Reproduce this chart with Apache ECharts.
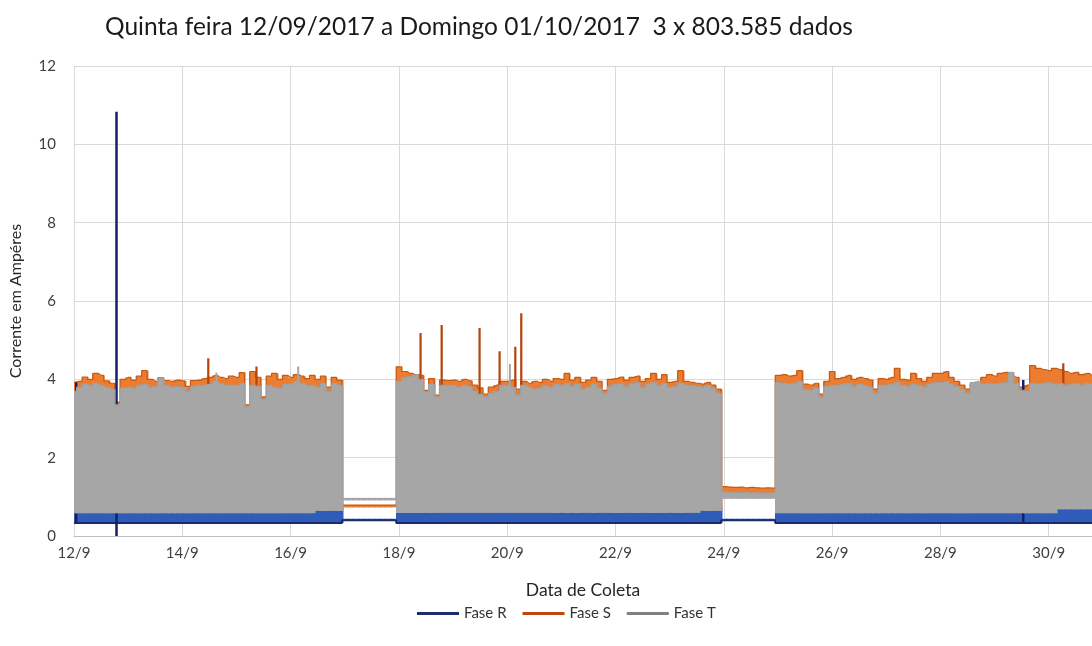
<!DOCTYPE html>
<html><head><meta charset="utf-8">
<script src="https://cdn.jsdelivr.net/npm/echarts@6/dist/echarts.min.js"></script>
<style>html,body{margin:0;padding:0;background:#fff}#c{width:1092px;height:646px}</style>
</head><body><div id="c"></div>
<script>
// ---------------- DADOS ----------------
const titulo = 'Quinta feira 12/09/2017 a Domingo 01/10/2017  3 x 803.585 dados';
const rotulosX = ['12/9','14/9','16/9','18/9','20/9','22/9','24/9','26/9','28/9','30/9'];
const legendas = ['Fase R','Fase S','Fase T'];

// amostragem (dias de setembro): início e passo da grade de leitura
const inicio = 12.0, passo = 0.1;

// envoltória superior da Fase S (A), lida a cada 0,1 dia
const faseS_max = [
 3.93,3.95,4.06,4.00,4.15,4.10,3.96,3.90,3.42,4.00,
 4.05,3.98,4.08,4.22,4.00,3.95,4.04,3.97,3.95,3.98,
 3.96,3.82,3.97,3.98,4.02,4.05,4.10,4.05,4.02,4.08,
 4.05,4.17,3.35,4.20,4.05,3.55,4.08,4.15,4.00,4.10,
 4.05,4.12,4.08,4.02,4.10,4.00,4.08,3.80,4.05,3.98,
 0.79,0.79,0.79,0.79,0.79,0.79,0.79,0.79,0.79,0.79,
 4.32,4.20,4.15,4.12,4.10,3.72,4.02,3.60,3.98,3.97,
 3.98,3.95,4.00,3.96,3.85,3.78,3.62,3.80,3.85,3.95,
 3.95,3.98,3.75,3.95,3.90,3.95,3.92,4.00,3.95,4.02,
 4.00,4.15,3.98,4.05,3.92,3.98,4.05,3.95,3.72,4.00,
 4.02,4.06,3.98,4.05,4.08,3.95,4.02,4.15,4.00,4.12,
 3.92,3.95,4.22,3.95,3.92,3.90,3.88,3.92,3.85,3.75,
 1.26,1.25,1.24,1.25,1.23,1.24,1.23,1.22,1.23,1.22,
 4.10,4.12,4.08,4.10,4.22,3.88,3.85,3.90,3.62,3.95,
 4.20,4.02,4.05,4.10,4.00,4.05,4.02,3.98,3.75,4.02,
 4.00,4.05,4.28,4.00,3.98,4.15,4.02,3.95,4.05,4.15,
 4.15,4.20,4.05,3.95,3.85,3.75,3.88,3.90,4.05,4.12,
 4.08,4.15,4.18,4.10,4.05,3.80,3.85,4.35,4.28,4.25,
 4.22,4.28,4.25,4.20,4.15,4.18,4.12,4.15,4.10
];
// envoltória superior da Fase T (A)
const faseT_max = [
 3.70,3.80,3.88,3.85,3.90,3.85,3.80,3.75,3.35,3.78,
 3.80,3.78,3.85,3.88,3.80,3.82,4.02,3.85,3.80,3.82,
 3.80,3.70,3.82,3.85,3.85,3.88,3.95,3.90,3.85,3.85,
 3.85,3.90,3.30,3.85,3.82,3.50,3.85,3.80,3.78,3.88,
 3.88,3.95,3.90,3.85,3.85,3.80,3.90,3.70,3.90,3.85,
 0.96,0.96,0.96,0.96,0.96,0.96,0.96,0.96,0.96,0.96,
 3.95,4.05,4.08,4.12,4.00,3.68,3.88,3.55,3.85,3.85,
 3.85,3.80,3.85,3.82,3.70,3.62,3.55,3.65,3.70,3.85,
 3.85,3.80,3.60,3.85,3.80,3.75,3.78,3.85,3.80,3.88,
 3.85,3.90,3.82,3.88,3.75,3.80,3.88,3.78,3.65,3.82,
 3.88,3.90,3.82,3.90,3.92,3.80,3.88,3.92,3.85,3.90,
 3.80,3.82,3.90,3.85,3.85,3.82,3.80,3.85,3.78,3.65,
 1.12,1.12,1.11,1.11,1.11,1.10,1.10,1.10,1.10,1.10,
 3.92,3.90,3.88,3.90,3.95,3.75,3.72,3.78,3.55,3.82,
 3.85,3.85,3.88,3.90,3.82,3.88,3.85,3.80,3.65,3.85,
 3.85,3.88,3.92,3.85,3.82,3.88,3.85,3.80,3.88,3.92,
 3.92,3.95,3.88,3.82,3.75,3.65,3.92,3.95,3.88,3.90,
 3.88,3.90,3.92,4.18,3.90,3.72,3.70,3.90,3.88,3.90,
 3.92,3.88,3.90,3.85,3.88,3.90,3.85,3.90,3.88
];
// limites inferiores / faixas por trecho: [início, fim, valor]
const faseT_min = [[12.0,16.45,0.58],[16.45,16.95,0.64],[16.95,17.95,0.91],[17.95,23.55,0.59],[23.55,23.95,0.64],[23.95,24.95,0.95],[24.95,30.15,0.58],[30.15,30.85,0.68]];
const faseS_min = [[12.0,16.95,0.70],[16.95,17.95,0.73],[17.95,23.95,0.70],[23.95,24.95,1.10],[24.95,30.85,0.70]];
const faseR_min = [[12.0,16.95,0.33],[16.95,17.95,0.40],[17.95,23.95,0.33],[23.95,24.95,0.40],[24.95,30.85,0.33]];
const faseR_max = [[12.0,16.95,0.75],[16.95,17.95,0.44],[17.95,23.95,0.75],[23.95,24.95,0.44],[24.95,30.85,0.80]];

// picos isolados
const faseS_picos_t = [14.48,15.37,18.40,18.79,19.49,19.86,20.15,20.26,30.27];
const faseS_picos_v = [4.54,4.33,5.18,5.39,5.31,4.72,4.83,5.69,4.41];
const faseT_picos_t = [13.62,14.63,16.14,20.05];
const faseT_picos_v = [4.04,4.17,4.33,4.39];
const faseR_picos_t = [12.04,12.785,29.53];
const faseR_picos_min = [0.33,0.0,0.33];
const faseR_picos_max = [3.92,10.83,3.98];

// ---------------- MONTAGEM ----------------
const FONTE = 'Lato, "Open Sans", sans-serif';
const tempos = faseS_max.map((_, i) => +(inicio + i * passo).toFixed(3));
function valorTrecho(trechos, t) {
  const r = trechos.find(x => t >= x[0] - 1e-9 && t < x[1] - 1e-9);
  return r ? r[2] : trechos[trechos.length - 1][2];
}
function expandir(trechos) { return tempos.map(t => valorTrecho(trechos, t)); }

let camada = 1;
// faixa preenchida (min..max) desenhada amostra a amostra, em degrau centrado
function faixa(nome, minimo, maximo, cor) {
  return {
    name: nome, type: 'custom', silent: true, clip: true, z: camada++,
    encode: { x: 0, y: [1, 2] },
    data: tempos.map((t, i) => [t, minimo[i], maximo[i]]),
    renderItem: function (params, api) {
      const i = params.dataIndex, t = api.value(0);
      const t0 = i > 0 ? (t + tempos[i - 1]) / 2 : t;
      const t1 = i < tempos.length - 1 ? (t + tempos[i + 1]) / 2 : t;
      const pA = api.coord([t0, api.value(2)]);
      const pB = api.coord([t1, api.value(1)]);
      const x0 = Math.floor(pA[0]), x1 = Math.ceil(pB[0]) + 0.5;
      return { type: 'rect', shape: { x: x0, y: pA[1], width: x1 - x0, height: pB[1] - pA[1] },
               style: { fill: cor } };
    }
  };
}
function borda(nome, valores, cor, larg) {
  return { name: nome, type: 'line', step: 'middle', symbol: 'none', silent: true, z: camada++,
           data: tempos.map((t, i) => [t, valores[i]]), lineStyle: { color: cor, width: larg } };
}
function picos(nome, ts, mins, maxs, cor, larg) {
  const d = [];
  ts.forEach((t, i) => { d.push([t, mins[i]], [t, maxs[i]], [t, '-']); });
  return { name: nome, type: 'line', data: d, symbol: 'none', silent: true, connectNulls: false, z: camada++,
           lineStyle: { color: cor, width: larg } };
}

const cores = { R: '#1f2d6b', S: '#c0450f', T: '#808080' };
const R_min = expandir(faseR_min), R_max = expandir(faseR_max);
const S_min = expandir(faseS_min), T_min = expandir(faseT_min);

const series = [
  faixa('Fase R', R_min, R_max, '#2f5cb8'),
  borda('Fase R', R_min, '#1b2a6a', 2),
  faixa('Fase S', S_min, faseS_max, '#ec7c30'),
  borda('Fase S', faseS_max, '#c55a11', 1.2),
  picos('Fase S', faseS_picos_t, faseS_picos_t.map(t => valorTrecho(faseS_min, t)), faseS_picos_v, '#b5440c', 2.2),
  picos('Fase R', faseR_picos_t, faseR_picos_min, faseR_picos_max, '#14206a', 2.5),
  faixa('Fase T', T_min, faseT_max, '#a6a6a6'),
  borda('Fase T', faseT_max, '#9e9e9e', 1),
  picos('Fase T', faseT_picos_t, faseT_picos_t.map(t => valorTrecho(faseT_min, t) + 1), faseT_picos_v, '#a6a6a6', 2)
];

const chart = echarts.init(document.getElementById('c'), null, { renderer: 'canvas' });
chart.setOption({
  animation: false,
  backgroundColor: '#ffffff',
  textStyle: { fontFamily: FONTE },
  title: { text: titulo, left: 105, top: 15, padding: 0,
           textStyle: { fontFamily: FONTE, fontSize: 24.5, fontWeight: 'normal', color: '#1a1a1a' } },
  legend: {
    left: 412, top: 601, icon: 'rect', itemWidth: 42, itemHeight: 3, itemGap: 16,
    textStyle: { fontFamily: FONTE, fontSize: 15, color: '#333' },
    data: legendas.map((n, i) => ({ name: n, itemStyle: { color: cores['RST'[i]] } }))
  },
  grid: { left: 70, right: 0, top: 66, bottom: 110 },
  xAxis: {
    type: 'value', min: 12, max: 30.8, interval: 2,
    axisLine: { show: true, lineStyle: { color: '#bfbfbf', width: 1 } },
    axisTick: { show: false },
    splitLine: { show: true, lineStyle: { color: '#d9d9d9', width: 1 } },
    axisLabel: { fontFamily: FONTE, fontSize: 15, color: '#404040', margin: 10, showMaxLabel: false,
                 formatter: v => { const k = Math.round((v - 12) / 2); return (Math.abs(v - 12 - 2 * k) < 1e-6 && rotulosX[k]) ? rotulosX[k] : ''; } },
    name: 'Data de Coleta', nameLocation: 'middle', nameGap: 45,
    nameTextStyle: { fontFamily: FONTE, fontSize: 17.5, color: '#262626' }
  },
  yAxis: {
    type: 'value', min: 0, max: 12, interval: 2,
    axisLine: { show: false }, axisTick: { show: false },
    splitLine: { show: true, lineStyle: { color: '#d9d9d9', width: 1 } },
    axisLabel: { fontFamily: FONTE, fontSize: 15, color: '#404040', margin: 18 },
    name: 'Corrente em Ampéres', nameLocation: 'middle', nameRotate: 90, nameGap: 50,
    nameTextStyle: { fontFamily: FONTE, fontSize: 16, color: '#262626' }
  },
  series: series
});
</script></body></html>
